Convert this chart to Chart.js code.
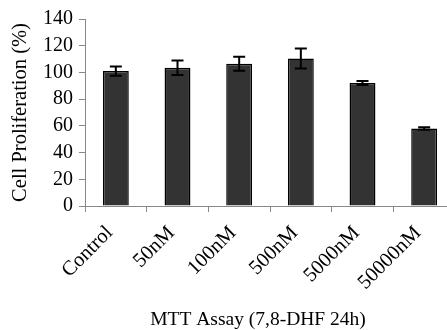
<!DOCTYPE html>
<html>
<head>
<meta charset="utf-8">
<script src="https://cdn.jsdelivr.net/npm/chart.js@4/dist/chart.umd.min.js"></script>
<style>
  html, body { margin: 0; padding: 0; background: #fff; overflow: hidden; }
  #wrap { width: 447px; height: 330px; overflow: hidden; }
</style>
</head>
<body>
<div id="wrap"><canvas id="c" width="470" height="330"></canvas></div>
<script>
const categories = ['Control', '50nM', '100nM', '500nM', '5000nM', '50000nM'];
const proliferation = [101, 103.5, 106.5, 110.5, 92, 58];
const errors = [3.5, 5.5, 5.3, 7.5, 1.5, 1];
const yTicks = [0, 20, 40, 60, 80, 100, 120, 140];
const yTitle = 'Cell Proliferation (%)';
const xTitle = 'MTT Assay (7,8-DHF 24h)';

const FONT = 'Liberation Serif';

const errorBars = {
  id: 'errorBars',
  afterDatasetsDraw(chart) {
    const meta = chart.getDatasetMeta(0);
    const ys = chart.scales.y;
    const ctx = chart.ctx;
    ctx.save();
    ctx.strokeStyle = '#000';
    ctx.lineWidth = 2;
    meta.data.forEach((bar, i) => {
      const v = proliferation[i], e = errors[i];
      const top = ys.getPixelForValue(v + e);
      const bot = ys.getPixelForValue(v - e);
      const x = bar.x;
      const cap = 6;
      ctx.beginPath();
      ctx.moveTo(x, top); ctx.lineTo(x, bot);
      ctx.moveTo(x - cap, top); ctx.lineTo(x + cap, top);
      ctx.moveTo(x - cap, bot); ctx.lineTo(x + cap, bot);
      ctx.stroke();
    });
    ctx.restore();
  }
};

const bottomTitle = {
  id: 'bottomTitle',
  afterDraw(chart) {
    const ctx = chart.ctx;
    ctx.save();
    ctx.font = '19.5px "' + FONT + '"';
    ctx.fillStyle = '#000';
    ctx.textAlign = 'center';
    ctx.textBaseline = 'alphabetic';
    ctx.fillText(xTitle, 258, 325);
    ctx.restore();
  }
};

new Chart(document.getElementById('c'), {
  type: 'bar',
  data: {
    labels: categories,
    datasets: [{
      data: proliferation,
      backgroundColor: '#333333',
      borderColor: '#000000',
      borderWidth: 1.5,
      categoryPercentage: 1,
      barPercentage: 0.42
    }]
  },
  options: {
    responsive: false,
    animation: false,
    layout: { padding: { left: 0, top: 19, right: 15, bottom: 0 } },
    plugins: { legend: { display: false }, tooltip: { enabled: false } },
    scales: {
      x: {
        afterFit(s) { s.height = 124; },
        grid: { display: true, drawOnChartArea: false, drawTicks: true, tickLength: 6, color: '#888', offset: true },
        border: { display: true, color: '#888', width: 1 },
        ticks: {
          autoSkip: false,
          minRotation: 45, maxRotation: 45, padding: 9, labelOffset: -6,
          color: '#000', font: { family: FONT, size: 20.5 }
        }
      },
      y: {
        min: 0, max: 140,
        afterFit(s) { s.width = 85; },
        afterBuildTicks(s) { s.ticks = yTicks.map(v => ({ value: v })); },
        grid: { display: true, drawOnChartArea: false, drawTicks: true, tickLength: 6, color: '#888' },
        border: { display: true, color: '#888', width: 1 },
        ticks: { autoSkip: false, padding: 6, color: '#000', font: { family: FONT, size: 20 } },
        title: { display: true, text: yTitle, color: '#000', font: { family: FONT, size: 20.5 }, padding: { top: 8, bottom: 0 } }
      }
    }
  },
  plugins: [errorBars, bottomTitle]
});
</script>
</body>
</html>
